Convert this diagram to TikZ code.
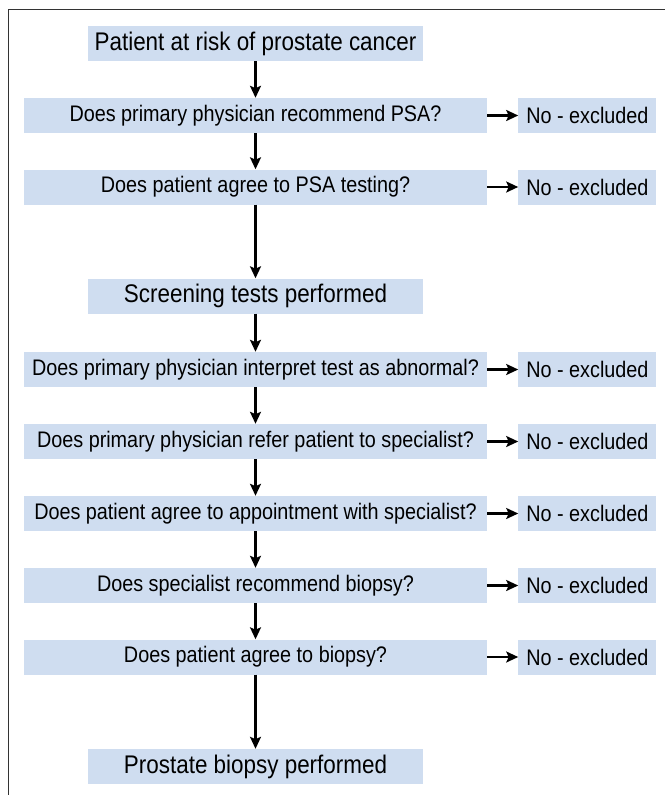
\documentclass[tikz,border=0pt]{standalone}
\usepackage{fontspec}
\setmainfont{Liberation Sans}[FakeStretch=0.88]
\usetikzlibrary{arrows.meta,positioning}
\definecolor{boxblue}{RGB}{207,221,240}

\begin{document}
\begin{tikzpicture}[x=1pt,y=-1pt,
  mainbox/.style={fill=boxblue,inner sep=0pt,minimum width=335pt,minimum height=35pt,font=\fontsize{25.5}{28}\selectfont},
  qbox/.style={fill=boxblue,inner sep=0pt,minimum width=463pt,minimum height=35pt,font=\fontsize{22.5}{25}\selectfont},
  nobox/.style={fill=boxblue,inner sep=0pt,minimum width=138pt,minimum height=35pt,font=\fontsize{22.5}{25}\selectfont},
  flow/.style={line width=2.3pt,-{Stealth[length=12pt,width=11pt,inset=2.5pt]}}]
\useasboundingbox (0,0) rectangle (664,795);
% Frame (cut at right and bottom)
  \draw[line width=1.5pt,black!80] (8.5,800) -- (8.5,9.5) -- (670,9.5);
% Start box
  \node[mainbox] (start) at (255.5,43.5) {Patient at risk of prostate cancer};
% Question boxes
  \node[qbox] (qa) at (255.5,115.5) {Does primary physician recommend PSA?};
  \node[qbox] (qb) at (255.5,187) {Does patient agree to PSA testing?};
  \node[mainbox] (screen) at (255.5,296) {Screening tests performed};
  \node[qbox] (qc) at (255.5,369.5) {Does primary physician interpret test as abnormal?};
  \node[qbox] (qd) at (255.5,441.5) {Does primary physician refer patient to specialist?};
  \node[qbox] (qe) at (255.5,513.5) {Does patient agree to appointment with specialist?};
  \node[qbox] (qf) at (255.5,585.5) {Does specialist recommend biopsy?};
  \node[qbox] (qg) at (255.5,657) {Does patient agree to biopsy?};
% End box
  \node[mainbox] (biopsy) at (255.5,766.5) {Prostate biopsy performed};
% Exclusion boxes
  \foreach \q in {qa,qb,qc,qd,qe,qf,qg}
    \node[nobox,right=31pt of \q] (no\q) {No - excluded};
% Main flow
  \draw[flow] (start) -- (qa);
  \draw[flow] (qa) -- (qb);
  \draw[flow] (qb) -- (screen);
  \draw[flow] (screen) -- (qc);
  \draw[flow] (qc) -- (qd);
  \draw[flow] (qd) -- (qe);
  \draw[flow] (qe) -- (qf);
  \draw[flow] (qf) -- (qg);
  \draw[flow] (qg) -- (biopsy);
% Exclusions
  \foreach \q in {qa,qb,qc,qd,qe,qf,qg}
    \draw[flow] (\q) -- (no\q);
\end{tikzpicture}
\end{document}
